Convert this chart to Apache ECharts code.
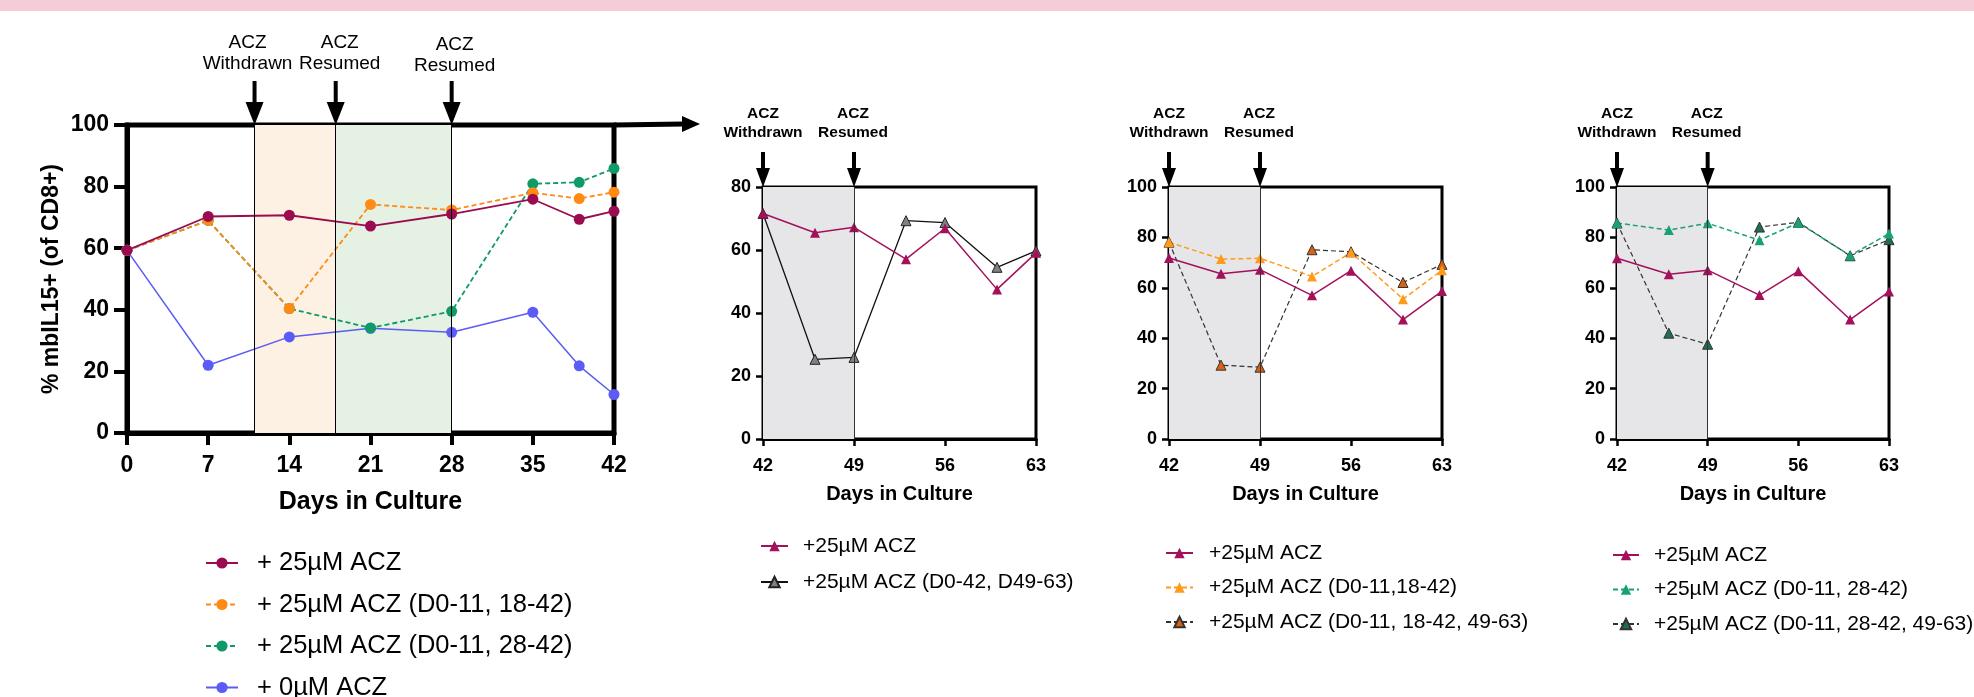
<!DOCTYPE html>
<html><head><meta charset="utf-8">
<script src="https://cdn.jsdelivr.net/npm/echarts@6/dist/echarts.min.js"></script>
<style>html,body{margin:0;padding:0;background:#fff}#c{width:1974px;height:697px}</style>
</head><body><div id="c"></div>
<script>
// ---------- data ----------
const mainDays = [0, 7, 14, 21, 28, 35, 39, 42];
const main25 = [59.3, 70.3, 70.7, 67.2, 71.1, 75.9, 69.4, 72.0];
const mainOrange = [59.3, 69.0, 40.4, 74.2, 72.4, 78.0, 76.1, 78.2];
const mainGreen = [59.3, 69.0, 40.4, 34.1, 39.5, 80.9, 81.4, 85.9];
const main0 = [59.3, 22.0, 31.2, 34.0, 32.7, 39.2, 21.8, 12.5];

const panelDays = [42, 46, 49, 53, 56, 60, 63];
const p2_25 = [71.6, 65.5, 67.2, 57.1, 66.9, 47.5, 59.1];
const p2_resumed = [71.6, 25.3, 25.9, 69.3, 68.7, 54.5, 59.7];
const p3_25 = [71.8, 65.6, 67.2, 57.0, 66.8, 47.4, 58.7];
const p3_orange = [78.1, 71.4, 71.7, 64.5, 74.0, 55.5, 67.0];
const p3_resumed = [78.1, 29.3, 28.5, 75.1, 74.3, 62.1, 69.3];
const p4_25 = [71.7, 65.4, 67.0, 57.1, 66.6, 47.4, 58.5];
const p4_green = [85.7, 82.9, 85.6, 78.9, 85.8, 72.8, 81.5];
const p4_resumed = [85.7, 42.0, 37.6, 84.1, 86.0, 72.7, 79.1];

const mainNames = ['+ 25µM ACZ', '+ 25µM ACZ (D0-11, 18-42)', '+ 25µM ACZ (D0-11, 28-42)', '+ 0µM ACZ'];
const p2Names = ['+25µM ACZ', '+25µM ACZ (D0-42, D49-63)'];
const p3Names = ['+25µM ACZ', '+25µM ACZ (D0-11,18-42)', '+25µM ACZ (D0-11, 18-42, 49-63)'];
const p4Names = ['+25µM ACZ', '+25µM ACZ (D0-11, 28-42)', '+25µM ACZ (D0-11, 28-42, 49-63)'];

const mainXTicks = {min: 0, max: 42, interval: 7};
const panelXTicks = {min: 42, max: 63, interval: 7};

// main-chart events (days)
const mainEvents = [{day: 11, label: 'ACZ\nWithdrawn'}, {day: 18, label: 'ACZ\nResumed'}, {day: 28, label: 'ACZ\nResumed'}];
const panelEvents = [{day: 42, label: 'ACZ\nWithdrawn'}, {day: 49, label: 'ACZ\nResumed'}];

// ---------- helpers ----------
const FONT = "'Liberation Sans', Arial, Helvetica, sans-serif";
const zip = (xs, ys) => xs.map((x, i) => [x, ys[i]]);

function mkX(idx, t, big) {
  return {
    type: 'value', gridIndex: idx, min: t.min, max: t.max, interval: t.interval,
    name: 'Days in Culture', nameLocation: 'middle', nameGap: big ? 57 : 45,
    nameTextStyle: {fontFamily: FONT, fontWeight: 'bold', fontSize: big ? 25 : 20, color: '#000'},
    axisLine: {show: true, onZero: false, lineStyle: {color: '#000', width: big ? 5 : 3}},
    axisTick: {show: true, length: big ? 12 : 7, lineStyle: {color: '#000', width: big ? 4 : 2.5}},
    axisLabel: {fontFamily: FONT, fontWeight: 'bold', fontSize: big ? 23 : 18, color: '#000', margin: big ? 21 : 18},
    splitLine: {show: false}
  };
}
function mkY(idx, max, big) {
  const o = {
    type: 'value', gridIndex: idx, min: 0, max: max, interval: 20,
    axisLine: {show: true, onZero: false, lineStyle: {color: '#000', width: big ? 5 : 3}},
    axisTick: {show: true, length: big ? 13 : 7, lineStyle: {color: '#000', width: big ? 4 : 2.5}},
    axisLabel: {fontFamily: FONT, fontWeight: 'bold', fontSize: big ? 23 : 18, color: '#000', margin: big ? 18 : 12},
    splitLine: {show: false}
  };
  if (big) {
    o.name = '% mbIL15+ (of CD8+)'; o.nameLocation = 'middle'; o.nameGap = 64;
    o.nameTextStyle = {fontFamily: FONT, fontWeight: 'bold', fontSize: 23, color: '#000'};
  }
  return o;
}
function line(name, idx, xs, ys, o) {
  return {
    type: 'line', name: name, xAxisIndex: idx, yAxisIndex: idx, data: zip(xs, ys),
    symbol: o.symbol, symbolSize: o.size || 10, showSymbol: true,
    lineStyle: {color: o.line, width: o.w || 1.5, type: o.dash ? [5, 3] : 'solid'},
    itemStyle: {color: o.fill, borderColor: o.border || o.fill, borderWidth: o.border ? 1 : 0},
    z: o.z || 2, clip: false, animation: false, emphasis: {disabled: true}
  };
}
function shade(ranges, color) {
  return {silent: true, itemStyle: {color: color}, data: ranges.map(r => [{xAxis: r[0]}, {xAxis: r[1]}])};
}
function vlines(days, color) {
  return {silent: true, symbol: ['none', 'none'], label: {show: false},
    lineStyle: {color: color, width: 1, type: 'solid'}, data: days.map(d => ({xAxis: d}))};
}

const PURPLE = '#9b0b4f', PPURPLE = '#a3115b';
const series = [];
// main chart (grid 0)
const sBlue = line(mainNames[3], 0, mainDays, main0, {symbol: 'circle', size: 11, line: '#5b5bf6', fill: '#5b5bf6', w: 1.5});
sBlue.markArea = shade([[11, 18]], '#fdf1e4');
series.push(sBlue);
const sGreenArea = {type: 'line', xAxisIndex: 0, yAxisIndex: 0, data: [], markArea: shade([[18, 28]], '#e4f1e3'),
  markLine: vlines([11, 18, 28], '#000'), silent: true};
series.push(sGreenArea);
series.push(line(mainNames[2], 0, mainDays, mainGreen, {symbol: 'circle', size: 11, line: '#0f9a68', fill: '#0f9a68', dash: true, w: 1.8}));
series.push(line(mainNames[1], 0, mainDays, mainOrange, {symbol: 'circle', size: 11, line: '#ff8a14', fill: '#ff8a14', dash: true, w: 1.8}));
series.push(line(mainNames[0], 0, mainDays, main25, {symbol: 'circle', size: 11, line: PURPLE, fill: PURPLE, w: 1.8}));

// panel shading helper series
[1, 2, 3].forEach(i => series.push({type: 'line', xAxisIndex: i, yAxisIndex: i, data: [], silent: true,
  markArea: shade([[42, 49]], '#e6e6e9'), markLine: vlines([49], '#333')}));

// panel 2
series.push(line(p2Names[1], 1, panelDays, p2_resumed, {symbol: 'triangle', line: '#111', fill: '#808080', border: '#222', w: 1.3}));
series.push(line(p2Names[0], 1, panelDays, p2_25, {symbol: 'triangle', line: PPURPLE, fill: PPURPLE, w: 1.5}));
// panel 3
series.push(line(p3Names[2], 2, panelDays, p3_resumed, {symbol: 'triangle', line: '#333', fill: '#dc610c', border: '#333', dash: true, w: 1.2}));
series.push(line(p3Names[1], 2, panelDays, p3_orange, {symbol: 'triangle', line: '#ff9a1a', fill: '#ff9a1a', dash: true, w: 1.5}));
series.push(line(p3Names[0], 2, panelDays, p3_25, {symbol: 'triangle', line: PPURPLE, fill: PPURPLE, w: 1.5}));
// panel 4
series.push(line(p4Names[2], 3, panelDays, p4_resumed, {symbol: 'triangle', line: '#333', fill: '#1e6e50', border: '#333', dash: true, w: 1.2}));
series.push(line(p4Names[1], 3, panelDays, p4_green, {symbol: 'triangle', line: '#1aa079', fill: '#1aa079', dash: true, w: 1.5}));
series.push(line(p4Names[0], 3, panelDays, p4_25, {symbol: 'triangle', line: PPURPLE, fill: PPURPLE, w: 1.5}));

function legend(names, left, top, fs, lh, gap, iw, ih, pad) {
  return {
    data: names, orient: 'vertical', left: left, top: top, width: 500, height: 250,
    itemWidth: iw, itemHeight: ih, itemGap: gap,
    selectedMode: false, padding: 0,
    textStyle: {fontFamily: FONT, fontSize: fs, lineHeight: lh, color: '#000', padding: [0, 0, 0, pad]}
  };
}

const chart = echarts.init(document.getElementById('c'), null, {renderer: 'canvas'});
chart.setOption({
  animation: false,
  backgroundColor: '#fff',
  grid: [
    {left: 127, top: 125, width: 487, height: 308, show: true, borderColor: '#000', borderWidth: 5, backgroundColor: 'transparent'},
    {left: 763, top: 187, width: 273, height: 252, show: true, borderColor: '#000', borderWidth: 3, backgroundColor: 'transparent'},
    {left: 1169, top: 187, width: 273, height: 252, show: true, borderColor: '#000', borderWidth: 3, backgroundColor: 'transparent'},
    {left: 1617, top: 187, width: 272, height: 252, show: true, borderColor: '#000', borderWidth: 3, backgroundColor: 'transparent'}
  ],
  xAxis: [mkX(0, mainXTicks, true), mkX(1, panelXTicks, false), mkX(2, panelXTicks, false), mkX(3, panelXTicks, false)],
  yAxis: [mkY(0, 100, true), mkY(1, 80, false), mkY(2, 100, false), mkY(3, 100, false)],
  legend: [
    legend(mainNames, 205, 549, 25.5, 28, 13.5, 32, 14, 14),
    legend(p2Names, 760, 534, 21, 24, 12, 27, 13, 10),
    legend(p3Names, 1165, 541, 21, 24, 10.5, 27, 13, 11),
    legend(p4Names, 1612, 543, 21, 24, 10.5, 26, 13, 10)
  ],
  series: series
});

// ---------- annotations (positions from the library's scales) ----------
function arrow(x, tipY, shaftTop, headLen, headW, shaftW) {
  return [
    {type: 'rect', shape: {x: x - shaftW / 2, y: shaftTop, width: shaftW, height: tipY - headLen - shaftTop + 1}, style: {fill: '#000'}, z: 100},
    {type: 'polygon', shape: {points: [[x - headW / 2, tipY - headLen], [x + headW / 2, tipY - headLen], [x, tipY]]}, style: {fill: '#000'}, z: 100}
  ];
}
const g = [];
g.push({type: 'rect', shape: {x: 0, y: 0, width: 1974, height: 11}, style: {fill: '#f5cdd8'}, z: 100});

const mainLabelDx = [-7, 4, 3];
mainEvents.forEach((e, i) => {
  const p = chart.convertToPixel({gridIndex: 0}, [e.day, 100]);
  g.push(...arrow(p[0], p[1], 81, 23, 18, 4));
  g.push({type: 'text', x: p[0] + mainLabelDx[i], y: i === 2 ? 55 : 53.5, z: 100,
    style: {text: e.label, fontFamily: FONT, fontSize: 19, lineHeight: 21, fill: '#000', align: 'center', verticalAlign: 'middle'}});
});
// big connector arrow along the main chart's top edge
const tl = chart.convertToPixel({gridIndex: 0}, [42, 100]);
g.push({type: 'line', shape: {x1: tl[0], y1: tl[1], x2: 684, y2: tl[1] - 1}, style: {stroke: '#000', lineWidth: 5}, z: 100});
g.push({type: 'polygon', shape: {points: [[682, tl[1] - 9], [682, tl[1] + 7], [700, tl[1] - 1]]}, style: {fill: '#000'}, z: 100});

[1, 2, 3].forEach(gi => {
  const ymax = gi === 1 ? 80 : 100;
  panelEvents.forEach((e, i) => {
    const p = chart.convertToPixel({gridIndex: gi}, [e.day, ymax]);
    g.push(...arrow(p[0], p[1], 152, 19, 14, 4));
    g.push({type: 'text', x: p[0] + (i === 0 ? 0 : -1), y: 123.5, z: 100,
      style: {text: e.label, fontFamily: FONT, fontSize: 15.5, fontWeight: 'bold', lineHeight: 19, fill: '#000', align: 'center', verticalAlign: 'middle'}});
  });
});
chart.setOption({graphic: g});
</script>
</body></html>
